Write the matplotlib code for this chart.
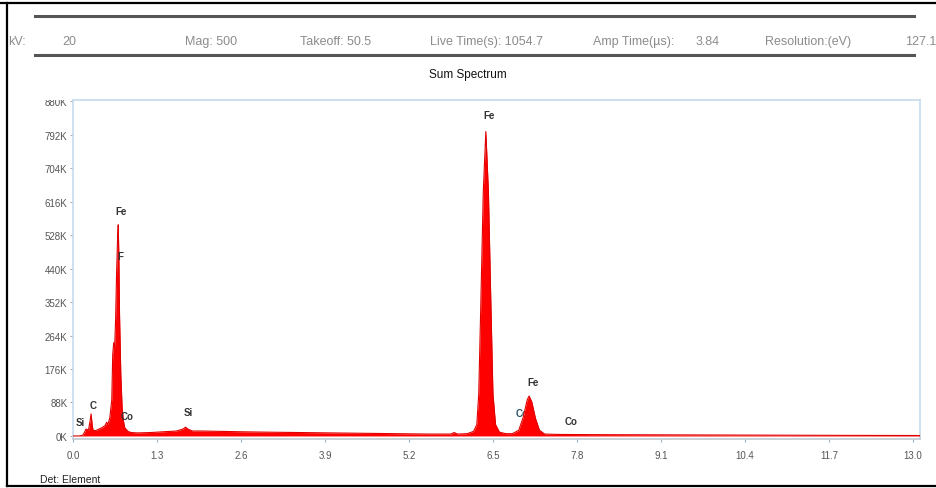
import matplotlib
matplotlib.use("Agg")
import matplotlib.pyplot as plt
from matplotlib.lines import Line2D
from matplotlib.patches import Rectangle

plt.rcParams['font.family'] = ['Liberation Sans', 'DejaVu Sans']

W, H = 937, 489

# EDS sum spectrum: energy (keV) and counts
energy_kev = [0.00, 0.10, 0.15, 0.18, 0.20, 0.24, 0.265, 0.28, 0.295, 0.31, 0.35,
              0.40, 0.45, 0.50, 0.52, 0.54, 0.57, 0.60, 0.615, 0.63, 0.645, 0.66,
              0.675, 0.69, 0.70, 0.71, 0.72, 0.74, 0.76, 0.78, 0.80, 0.85, 0.90,
              1.00, 1.20, 1.40, 1.60, 1.70, 1.74, 1.78, 1.85, 2.00, 2.30, 2.60,
              3.00, 3.50, 4.00, 4.50, 5.00, 5.50, 5.85, 5.90, 5.95, 6.10, 6.20,
              6.25, 6.28, 6.31, 6.35, 6.39, 6.43, 6.47, 6.50, 6.54, 6.60, 6.70,
              6.80, 6.90, 6.97, 7.03, 7.06, 7.10, 7.16, 7.22, 7.30, 7.50, 8.00,
              9.00, 10.00, 11.00, 12.00, 13.00, 13.11]
counts = [0, 0, 2000, 10000, 18000, 16000, 40000, 58000, 32000, 15000, 14000,
          18000, 22000, 28000, 36000, 30000, 48000, 95000, 215000, 245000, 235000, 310000,
          430000, 520000, 555000, 470000, 320000, 160000, 75000, 40000, 22000, 12000, 9000,
          8000, 9000, 11000, 13000, 18000, 23000, 18000, 13000, 13000, 12000, 11000,
          10000, 9000, 8000, 7000, 6000, 5000, 5000, 9000, 5000, 6000, 12000,
          30000, 110000, 330000, 640000, 800000, 640000, 330000, 110000, 30000, 10000, 6000,
          6000, 15000, 50000, 95000, 105000, 90000, 45000, 15000, 5000, 4000, 3500,
          3000, 2500, 2000, 1500, 1200, 1000]

# Element markers: text, energy (keV), counts position
peak_labels = ["Fe", "Fe", "F", "C", "Si", "Co", "Si", "Fe", "Co"]
label_kev = [6.44, 0.74, 0.74, 0.31, 0.12, 0.84, 1.78, 7.12, 7.71]
label_counts = [843000, 591000, 473000, 81000, 37000, 52000, 63000, 142000, 39000]

x_ticks = [0.0, 1.3, 2.6, 3.9, 5.2, 6.5, 7.8, 9.1, 10.4, 11.7, 13.0]
y_ticks = [0, 88000, 176000, 264000, 352000, 440000, 528000, 616000, 704000, 792000, 880000]
y_tick_labels = ["0K", "88K", "176K", "264K", "352K", "440K", "528K", "616K",
                 "704K", "792K", "880K"]

header_items = [("kV:", 8), ("20", 62), ("Mag: 500", 185), ("Takeoff: 50.5", 300),
                ("Live Time(s): 1054.7", 430), ("Amp Time(\u00b5s):", 593), ("3.84", 696),
                ("Resolution:(eV)", 765), ("127.1", 905)]


def fx(x):
    return x / W


def fy(y):
    return 1 - y / H


fig = plt.figure(figsize=(W / 100, H / 100), dpi=100)
fig.patch.set_facecolor("white")

# outer black frame
for xs, ys in [((0, W), (4, 4)), ((7, 7), (4, 487)), ((7, W), (487, 487))]:
    fig.add_artist(Line2D([fx(v) for v in xs], [fy(v) for v in ys],
                          color="black", lw=1.6, transform=fig.transFigure))

# header rules
for yy in (17, 56):
    fig.add_artist(Line2D([fx(35), fx(914)], [fy(yy), fy(yy)], color="#555555",
                          lw=2.2, transform=fig.transFigure))

for txt, xx in header_items:
    fig.text(fx(xx), fy(42), txt, fontsize=9, color="#8c8c8c", ha="left", va="center")

fig.text(fx(468), fy(75), "Sum Spectrum", fontsize=8.5, color="#111111",
         ha="center", va="center")
fig.text(fx(40), fy(480), "Det: Element", fontsize=7.5, color="#222222",
         ha="left", va="center")

# spectrum axes
ax = fig.add_axes([fx(73), fy(440), fx(920) - fx(73), fy(101) - fy(440)])
ax.set_xlim(0, 13.11)
ax.set_ylim(-8000, 883000)

ax.fill_between(energy_kev, counts, 0, color="#ff0000", lw=0, zorder=3)
ax.plot(energy_kev, counts, color="#e00000", lw=0.8, zorder=4)

for t, e, c in zip(peak_labels, label_kev, label_counts):
    ax.text(e, c, t, fontsize=7, fontweight="bold", color="#333333",
            ha="center", va="center", zorder=5)
# cobalt marker partly hidden under the Fe K-beta peak
ax.text(6.95, 60000, "Co", fontsize=7, fontweight="bold", color="#2a5566",
        ha="center", va="center", zorder=2)

ax.set_xticks(x_ticks)
ax.set_xticklabels([f"{v:.1f}" for v in x_ticks])
ax.set_yticks(y_ticks)
ax.set_yticklabels(y_tick_labels)
ax.tick_params(axis="both", labelsize=7, colors="#9ab0c4", labelcolor="#555555",
               length=2, width=0.8, pad=2)
ax.tick_params(axis="x", pad=6)

for side in ("left", "top", "right", "bottom"):
    ax.spines[side].set_color("#c6dcee")
    ax.spines[side].set_linewidth(1.2)
ax.spines["bottom"].set_color("#c0c8d0")

# the top tick label is cut at the panel edge
fig.add_artist(Rectangle((fx(30), fy(101)), fx(72) - fx(30), fy(90) - fy(101),
                         facecolor="white", edgecolor="none",
                         transform=fig.transFigure, zorder=10))

fig.savefig("out.png", dpi=100)
